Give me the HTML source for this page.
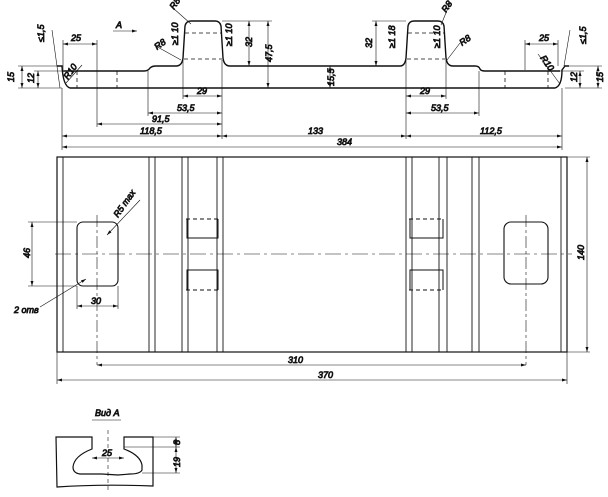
<!DOCTYPE html>
<html><head><meta charset="utf-8"><style>
html,body{margin:0;padding:0;background:#fff;}
svg{display:block;}
text{font-family:"Liberation Sans",sans-serif;font-style:italic;font-size:9px;fill:#111;}
.d line{marker-start:url(#ar);marker-end:url(#ar);}
</style></head><body>
<svg width="608" height="497" viewBox="0 0 608 497" xmlns="http://www.w3.org/2000/svg" stroke="#111" fill="none" stroke-width="0.8">
<defs><marker id="ar" viewBox="0 0 10 6" refX="10" refY="3" markerWidth="7" markerHeight="3" markerUnits="userSpaceOnUse" orient="auto-start-reverse"><path d="M0,0 L10,3 L0,6 Z" fill="#111" stroke="none"/></marker></defs>
<!-- TOP PROFILE -->
<path d="M57,66 L62,66 Q63,86 70,88 L555,88 Q562,86 562,70 L565,66 L569,66" stroke-width="1.4"/>
<path d="M62,71 L144,71 Q148,71 150,68 Q152,66 156,66 L176,66 Q182,66 183,58 L185,26 Q186,21 191,21 L215,21 Q220,21 221,26 L223,58 Q224,66 230,66 L400,66 Q405,66 406,58 L408,26 Q409,21 414,21 L438,21 Q443,21 444,26 L446,58 Q447,66 453,66 L475,66 Q479,66 480,69 Q481,71 485,71 L560,71" stroke-width="1.4"/>
<g stroke-dasharray="4,3">
<line x1="185" y1="33" x2="221" y2="33"/><line x1="184" y1="59" x2="222" y2="59"/>
<line x1="408" y1="33" x2="444" y2="33"/><line x1="407" y1="59" x2="445" y2="59"/>
<line x1="77" y1="71" x2="77" y2="88"/><line x1="117" y1="71" x2="117" y2="88"/>
<line x1="505" y1="71" x2="505" y2="88"/><line x1="548" y1="71" x2="548" y2="88"/>
</g>
<g stroke-width="0.6">
<line x1="18" y1="66" x2="57" y2="66"/><line x1="18" y1="88" x2="62" y2="88"/><line x1="34" y1="71" x2="62" y2="71"/>
<line x1="62" y1="88" x2="62" y2="150"/><line x1="97" y1="40" x2="97" y2="127"/><line x1="63" y1="40" x2="63" y2="70"/>
<line x1="148" y1="71" x2="148" y2="116"/><line x1="183" y1="60" x2="183" y2="99"/><line x1="222" y1="60" x2="222" y2="139"/>
<line x1="222" y1="21" x2="272" y2="21"/><line x1="230" y1="66" x2="252" y2="66"/><line x1="562" y1="88" x2="562" y2="150"/>
<line x1="406" y1="60" x2="406" y2="139"/><line x1="446" y1="60" x2="446" y2="99"/><line x1="479" y1="71" x2="479" y2="116"/>
<line x1="372" y1="21" x2="406" y2="21"/><line x1="525" y1="40" x2="525" y2="70"/><line x1="558" y1="40" x2="558" y2="66"/>
<line x1="569" y1="66" x2="602" y2="66"/><line x1="565" y1="88" x2="602" y2="88"/><line x1="560" y1="71" x2="584" y2="71"/>
<line x1="52" y1="30" x2="60" y2="88"/>
<line x1="82" y1="65" x2="66" y2="83"/><line x1="154" y1="45" x2="181" y2="60"/><line x1="173" y1="8" x2="191" y2="24"/>
<line x1="450" y1="3" x2="441" y2="25"/><line x1="460" y1="43" x2="447" y2="60"/>
<line x1="538" y1="54" x2="560" y2="84"/><line x1="570" y1="30" x2="564" y2="66"/>
</g>
<g class="d" stroke-width="0.6">
<line x1="22" y1="66" x2="22" y2="88"/><line x1="38" y1="71" x2="38" y2="88"/>
<line x1="63" y1="44" x2="97" y2="44"/><line x1="525" y1="44" x2="558" y2="44"/>
<line x1="183" y1="96" x2="222" y2="96"/><line x1="148" y1="113" x2="222" y2="113"/><line x1="97" y1="124" x2="222" y2="124"/>
<line x1="62" y1="136" x2="222" y2="136"/><line x1="222" y1="136" x2="406" y2="136"/><line x1="406" y1="136" x2="562" y2="136"/><line x1="62" y1="147" x2="562" y2="147"/>
<line x1="406" y1="96" x2="446" y2="96"/><line x1="406" y1="113" x2="479" y2="113"/>
<line x1="249" y1="21" x2="249" y2="66"/><line x1="268" y1="21" x2="268" y2="88"/><line x1="330" y1="66" x2="330" y2="88"/>
<line x1="376" y1="21" x2="376" y2="66"/><line x1="580" y1="71" x2="580" y2="88"/><line x1="598" y1="66" x2="598" y2="88"/>
</g>
<line x1="113" y1="31" x2="137" y2="31" stroke-width="0.6" style="marker-end:url(#ar)"/>
<g font-size="9">
<text transform="translate(44,42) rotate(-90)">≤1,5</text>
<text x="71" y="41">25</text>
<text transform="translate(68,80) rotate(-55)">R10</text>
<text x="116" y="28">A</text>
<text transform="translate(174,10) rotate(-55)">R8</text>
<text transform="translate(157,50) rotate(-35)">R8</text>
<text transform="translate(178,45) rotate(-90)">≥1 10</text>
<text transform="translate(232,46) rotate(-90)">≥1 10</text>
<text transform="translate(252,47) rotate(-90)">32</text>
<text transform="translate(272,62) rotate(-90)">47,5</text>
<text transform="translate(14,82) rotate(-90)">15</text>
<text transform="translate(34,83) rotate(-90)">12</text>
<text x="197" y="94">29</text>
<text x="177" y="111">53,5</text>
<text x="152" y="122">91,5</text>
<text x="140" y="134">118,5</text>
<text x="308" y="134">133</text>
<text x="480" y="134">112,5</text>
<text x="337" y="145">384</text>
<text transform="translate(334,86) rotate(-90)">15,5</text>
<text transform="translate(372,48) rotate(-90)">32</text>
<text transform="translate(395,48) rotate(-90)">≥1 18</text>
<text transform="translate(440,48) rotate(-90)">≥1 10</text>
<text transform="translate(446,13) rotate(-55)">R8</text>
<text transform="translate(462,46) rotate(-35)">R8</text>
<text x="420" y="94">29</text>
<text x="431" y="111">53,5</text>
<text x="539" y="41">25</text>
<text transform="translate(540,58) rotate(55)">R10</text>
<text transform="translate(586,44) rotate(-90)">≤1,5</text>
<text transform="translate(577,82) rotate(-90)">12</text>
<text transform="translate(603,82) rotate(-90)">15</text>
</g>
<!-- PLAN VIEW -->
<rect x="57" y="157" width="510" height="195" stroke-width="1.2"/>
<g stroke-width="0.9">
<line x1="63" y1="157" x2="63" y2="352"/><line x1="149" y1="157" x2="149" y2="352"/><line x1="155" y1="157" x2="155" y2="352"/>
<line x1="182" y1="157" x2="182" y2="352"/><line x1="188" y1="157" x2="188" y2="352"/><line x1="217" y1="157" x2="217" y2="352"/><line x1="223" y1="157" x2="223" y2="352"/>
<line x1="406" y1="157" x2="406" y2="352"/><line x1="412" y1="157" x2="412" y2="352"/><line x1="439" y1="157" x2="439" y2="352"/><line x1="447" y1="157" x2="447" y2="352"/>
<line x1="472" y1="157" x2="472" y2="352"/><line x1="479" y1="157" x2="479" y2="352"/><line x1="561" y1="157" x2="561" y2="352"/>
</g>
<line x1="55" y1="254" x2="572" y2="254" stroke-width="0.6" stroke-dasharray="16,4,3,4"/>
<rect x="77" y="222" width="41" height="64" rx="6" stroke-width="1.1"/>
<rect x="504" y="222" width="44" height="62" rx="7" stroke-width="1.1"/>
<line x1="97" y1="215" x2="97" y2="365" stroke-width="0.6" stroke-dasharray="12,3,3,3"/>
<line x1="526" y1="215" x2="526" y2="365" stroke-width="0.6" stroke-dasharray="12,3,3,3"/>
<g stroke-width="1">
<path d="M187,219 L187,238 L218,238 L218,219" /><path d="M187,290 L187,270 L218,270 L218,290"/>
<path d="M410,219 L410,238 L443,238 L443,219" /><path d="M410,290 L410,270 L443,270 L443,290"/>
</g>
<g stroke-width="0.9" stroke-dasharray="4,3">
<line x1="186" y1="219" x2="219" y2="219"/><line x1="186" y1="290" x2="219" y2="290"/>
<line x1="409" y1="219" x2="444" y2="219"/><line x1="409" y1="290" x2="444" y2="290"/>
</g>
<g stroke-width="0.6">
<line x1="28" y1="222" x2="77" y2="222"/><line x1="28" y1="286" x2="77" y2="286"/>
<line x1="77" y1="286" x2="77" y2="309"/><line x1="118" y1="286" x2="118" y2="309"/>
<line x1="57" y1="352" x2="57" y2="384"/><line x1="567" y1="352" x2="567" y2="384"/>
<line x1="567" y1="157" x2="590" y2="157"/><line x1="567" y1="352" x2="590" y2="352"/>
<line x1="140" y1="200" x2="107" y2="235" style="marker-end:url(#ar)"/><line x1="40" y1="307" x2="86" y2="279" style="marker-end:url(#ar)"/>
</g>
<g class="d" stroke-width="0.6">
<line x1="32" y1="222" x2="32" y2="286"/><line x1="77" y1="306" x2="118" y2="306"/>
<line x1="97" y1="365" x2="526" y2="365"/><line x1="57" y1="380" x2="567" y2="380"/><line x1="587" y1="157" x2="587" y2="352"/>
</g>
<g font-size="9">
<text transform="translate(118,218) rotate(-55)">R5 max</text>
<text transform="translate(30,258) rotate(-90)">46</text>
<text x="91" y="304">30</text>
<text x="14" y="313">2 отв</text>
<text x="288" y="363">310</text>
<text x="318" y="378">370</text>
<text transform="translate(584,260) rotate(-90)">140</text>
</g>
<!-- VIEW A -->
<text x="95" y="416">Вид А</text>
<line x1="92" y1="420" x2="121" y2="420" stroke-width="0.6"/>
<path d="M92,437 L56,437 L57,487 Q100,484 153,486 L153,437 L124,437 L124,449 Q140,455 142,465 L142,470 Q140,474 130,474 L118,475 L102,474 L80,474 Q73,473 73,467 Q74,456 92,449 Z" stroke-width="1.2"/>
<g stroke-width="0.6">
<line x1="153" y1="437" x2="180" y2="437"/><line x1="124" y1="447" x2="180" y2="447"/><line x1="142" y1="473" x2="180" y2="473"/>
<line x1="108" y1="430" x2="108" y2="490" stroke-dasharray="4,3"/>
</g>
<g class="d" stroke-width="0.6">
<line x1="176" y1="437" x2="176" y2="447"/><line x1="176" y1="447" x2="176" y2="473"/><line x1="92" y1="458" x2="124" y2="458"/>
</g>
<text x="102" y="456" font-size="8">25</text>
<text transform="translate(180,445) rotate(-90)" font-size="8">8</text>
<text transform="translate(180,467) rotate(-90)" font-size="8">19</text>
</svg>
</body></html>
